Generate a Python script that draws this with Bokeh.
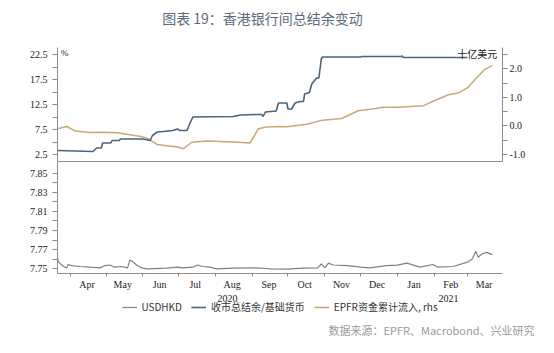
import pandas as pd
from bokeh.plotting import figure
from bokeh.models import (Range1d, LinearAxis, FixedTicker, Legend, LegendItem, Label, Title,
                          PrintfTickFormatter)
from bokeh.layouts import column
from bokeh.embed import file_html
from bokeh.resources import INLINE

# ---------------- data ----------------
balance_dates = ["2020-03-21", "2020-04-20", "2020-04-23", "2020-04-27", "2020-04-28", "2020-05-05",
                 "2020-05-06", "2020-05-12", "2020-05-13", "2020-06-01", "2020-06-07", "2020-06-09",
                 "2020-06-13", "2020-06-18", "2020-06-26", "2020-06-30", "2020-07-02", "2020-07-08",
                 "2020-07-11", "2020-07-13", "2020-08-16", "2020-08-22", "2020-09-05", "2020-09-09",
                 "2020-09-10", "2020-09-12", "2020-09-21", "2020-09-23", "2020-09-30", "2020-10-01",
                 "2020-10-04", "2020-10-07", "2020-10-11", "2020-10-14", "2020-10-15", "2020-10-19",
                 "2020-10-21", "2020-10-25", "2020-10-27", "2020-10-29", "2020-10-30", "2020-12-01",
                 "2020-12-02", "2021-01-04", "2021-01-05", "2021-01-06", "2021-03-01"]
balance_pct = [3.3, 3.1, 3.8, 3.8, 4.8, 4.8, 5.3, 5.3, 5.6, 5.6,
               5.3, 6.3, 7.0, 7.1, 7.3, 7.6, 7.3, 7.3, 9.0, 10.0,
               10.1, 10.4, 10.5, 10.5, 10.1, 11.0, 11.2, 12.8, 12.8, 11.6,
               11.6, 12.8, 13.1, 13.1, 14.6, 14.9, 16.6, 17.8, 17.8, 21.6,
               22.0, 22.0, 22.1, 22.1, 22.2, 21.9, 21.9]

epfr_dates = ["2020-03-21", "2020-03-29", "2020-04-05", "2020-04-17", "2020-04-26", "2020-05-10",
              "2020-05-21", "2020-05-29", "2020-06-04", "2020-06-13", "2020-06-21", "2020-06-30",
              "2020-07-05", "2020-07-12", "2020-07-25", "2020-08-16", "2020-08-30", "2020-09-06",
              "2020-09-13", "2020-09-24", "2020-09-30", "2020-10-17", "2020-10-25", "2020-10-30",
              "2020-11-15", "2020-11-22", "2020-11-29", "2020-12-11", "2020-12-20", "2021-01-01",
              "2021-01-23", "2021-02-01", "2021-02-13", "2021-02-21", "2021-03-01", "2021-03-08",
              "2021-03-15", "2021-03-22"]
epfr_flow = [-0.10, -0.02, -0.18, -0.23, -0.22, -0.24, -0.31, -0.36, -0.42, -0.65,
             -0.69, -0.74, -0.80, -0.57, -0.53, -0.56, -0.60, -0.10, -0.04, -0.02,
             -0.03, 0.06, 0.15, 0.20, 0.26, 0.39, 0.53, 0.59, 0.65, 0.65,
             0.71, 0.88, 1.09, 1.15, 1.33, 1.65, 1.96, 2.12]

hkd_dates = ["2020-03-21", "2020-03-22", "2020-03-26", "2020-03-29", "2020-03-30", "2020-04-02",
             "2020-04-09", "2020-04-17", "2020-04-26", "2020-04-30", "2020-05-04", "2020-05-08",
             "2020-05-14", "2020-05-19", "2020-05-21", "2020-05-24", "2020-05-27", "2020-05-31",
             "2020-06-04", "2020-06-21", "2020-06-30", "2020-07-04", "2020-07-13", "2020-07-17",
             "2020-07-21", "2020-07-27", "2020-08-02", "2020-08-16", "2020-09-02", "2020-09-13",
             "2020-09-16", "2020-09-30", "2020-10-14", "2020-10-26", "2020-10-29", "2020-11-01",
             "2020-11-04", "2020-11-08", "2020-11-20", "2020-12-01", "2020-12-09", "2020-12-23",
             "2021-01-01", "2021-01-09", "2021-01-20", "2021-01-31", "2021-02-04", "2021-02-17",
             "2021-03-01", "2021-03-05", "2021-03-08", "2021-03-10", "2021-03-13", "2021-03-17",
             "2021-03-22"]
usdhkd = [7.762, 7.757, 7.7524, 7.751, 7.7545, 7.7534, 7.7524, 7.7517, 7.751, 7.7534,
          7.754, 7.7517, 7.7524, 7.751, 7.7593, 7.7569, 7.7534, 7.751, 7.750, 7.7507,
          7.7517, 7.751, 7.7517, 7.754, 7.7524, 7.7517, 7.750, 7.7507, 7.751, 7.7503,
          7.750, 7.7497, 7.7507, 7.751, 7.7552, 7.751, 7.7559, 7.754, 7.7534, 7.7517,
          7.751, 7.7534, 7.7538, 7.7559, 7.7517, 7.7545, 7.7517, 7.7524, 7.7569, 7.7603,
          7.7683, 7.7621, 7.7655, 7.7672, 7.7648]

month_label_dates = ["2020-04-15", "2020-05-15", "2020-06-15", "2020-07-15", "2020-08-15", "2020-09-15",
                     "2020-10-15", "2020-11-15", "2020-12-15", "2021-01-15", "2021-02-15", "2021-03-15"]
month_labels = ["Apr", "May", "Jun", "Jul", "Aug", "Sep", "Oct", "Nov", "Dec", "Jan", "Feb", "Mar"]
month_start_dates = ["2020-04-01", "2020-05-01", "2020-06-01", "2020-07-01", "2020-08-01", "2020-09-01",
                     "2020-10-01", "2020-11-01", "2020-12-01", "2021-01-01", "2021-02-01", "2021-03-01"]
year_label_dates = ["2020-08-11", "2021-02-13"]
year_labels = ["2020", "2021"]

left_ticks = [2.5, 7.5, 12.5, 17.5, 22.5]
left_minor = [5.0, 10.0, 15.0, 20.0]
right_ticks = [-1.0, 0.0, 1.0, 2.0]
right_minor = [-0.5, 0.5, 1.5, 2.5]
hkd_ticks = [7.75, 7.77, 7.79, 7.81, 7.83, 7.85]
hkd_minor = [7.76, 7.78, 7.80, 7.82, 7.84]

TITLE = "图表 19：香港银行间总结余变动"
SOURCE = "数据来源：EPFR、Macrobond、兴业研究"
NAMES = ["USDHKD", "收市总结余/基础货币", "EPFR资金累计流入, rhs"]


def ms(s):
    return float(pd.Timestamp(s).value // 10**6)


BLUE = "#4b6479"
TAN = "#c9a978"
GRAY = "#808080"
AX = "#8c8c8c"
CJK = "Noto Sans CJK SC"
SERIF = "Liberation Serif"
W = 554
FRAME_W = 445
LEFT_B = 57
RIGHT_B = W - LEFT_B - FRAME_W

X0 = ms("2020-03-21 02:00")
X1 = ms("2021-03-30 11:00")


def style_axis(ax, standoff=5):
    ax.axis_line_color = AX
    ax.major_tick_line_color = AX
    ax.minor_tick_line_color = AX
    ax.major_tick_out = 5
    ax.major_tick_in = 0
    ax.minor_tick_out = 5
    ax.minor_tick_in = 0
    ax.major_label_text_font = SERIF
    ax.major_label_text_font_size = "10px"
    ax.major_label_text_color = "#222222"
    ax.major_label_standoff = standoff


def blank(height, x_range, y_range, bottom=0):
    f = figure(frame_width=FRAME_W, frame_height=height, x_range=x_range, y_range=y_range,
               output_backend="svg", toolbar_location=None, min_border_left=LEFT_B,
               min_border_right=RIGHT_B, min_border_top=0, min_border_bottom=bottom,
               outline_line_color=None, title=None,
               background_fill_color="white", border_fill_color="white")
    f.axis.visible = False
    f.grid.visible = False
    return f


# ---------------- header ----------------
head = blank(47, Range1d(0, FRAME_W), Range1d(47, 0))
head.add_layout(Label(x=262 - LEFT_B, y=17, text=TITLE, text_font=CJK, text_font_size="14px",
                      text_color="#5c6b7b", text_align="center", text_baseline="middle"))

# ---------------- top panel ----------------
top = figure(frame_width=FRAME_W, frame_height=114, x_axis_type="datetime", x_range=Range1d(X0, X1),
             y_range=Range1d(1.1, 23.9), output_backend="svg", toolbar_location=None,
             min_border_left=LEFT_B, min_border_right=RIGHT_B, min_border_top=0, min_border_bottom=1,
             outline_line_color=None, title=None, background_fill_color="white",
             border_fill_color="white")
top.grid.visible = False
top.extra_y_ranges = {"rhs": Range1d(-1.245, 2.745)}

la = top.yaxis[0]
la.ticker = FixedTicker(ticks=left_ticks, minor_ticks=left_minor)
la.formatter = PrintfTickFormatter(format="%.1f")
style_axis(la, 5)

ra = LinearAxis(y_range_name="rhs", ticker=FixedTicker(ticks=right_ticks, minor_ticks=right_minor),
                formatter=PrintfTickFormatter(format="%.1f"))
style_axis(ra, 2)
top.add_layout(ra, "right")

tx = top.xaxis[0]
tx.ticker = FixedTicker(ticks=[])
tx.axis_line_color = AX
tx.major_tick_out = 0
tx.minor_tick_out = 0
tx.major_label_standoff = 0

top.line(pd.to_datetime(epfr_dates), epfr_flow, y_range_name="rhs", line_color=TAN, line_width=1.5)
top.line(pd.to_datetime(balance_dates), balance_pct, line_color=BLUE, line_width=1.6)

top.add_layout(Label(x=ms("2020-03-24"), y=22.75, text="%", text_font=SERIF, text_font_size="9px",
                     text_color="#222222", text_baseline="middle", text_align="left"))
top.add_layout(Label(x=ms("2021-03-26"), y=22.75, text="十亿美元", text_font=CJK, text_font_size="10px",
                     text_color="#222222", text_baseline="middle", text_align="right"))

# ---------------- bottom panel ----------------
bot = figure(frame_width=FRAME_W, frame_height=111, x_axis_type="datetime", x_range=top.x_range,
             y_range=Range1d(7.7451, 7.861), output_backend="svg", toolbar_location=None,
             min_border_left=LEFT_B, min_border_right=RIGHT_B, min_border_top=0, min_border_bottom=20,
             outline_line_color=None, title=None, background_fill_color="white",
             border_fill_color="white")
bot.grid.visible = False

ba = bot.yaxis[0]
ba.ticker = FixedTicker(ticks=hkd_ticks, minor_ticks=hkd_minor)
ba.formatter = PrintfTickFormatter(format="%.2f")
style_axis(ba, 5)

bx = bot.xaxis[0]
bx.ticker = FixedTicker(ticks=[ms(d) for d in month_label_dates],
                        minor_ticks=[ms(d) for d in month_start_dates])
bx.major_label_overrides = {ms(d): lab for d, lab in zip(month_label_dates, month_labels)}
style_axis(bx, 2)
bx.major_tick_out = 0
bx.minor_tick_out = 3

bot.line(pd.to_datetime(hkd_dates), usdhkd, line_color=GRAY, line_width=1.2)

# ---------------- footer: years, legend, source ----------------
FOOT_H = 26
foot = blank(FOOT_H, Range1d(X0, X1), Range1d(FOOT_H, 0), bottom=34)
for d, lab in zip(year_label_dates, year_labels):
    foot.add_layout(Label(x=ms(d), y=5, text=lab, text_font=SERIF, text_font_size="10px",
                          text_color="#222222", text_align="center", text_baseline="middle"))

# legend-only renderers (their points lie outside the visible range)
off_x = [X0 - 2e9, X0 - 1e9]
off_y = [1, 1]
g = foot.line(x=off_x, y=off_y, line_color=GRAY, line_width=1.2)
b_dummy = foot.line(x=off_x, y=off_y, line_color=BLUE, line_width=1.6)
t_dummy = foot.line(x=off_x, y=off_y, line_color=TAN, line_width=1.6)
legend = Legend(items=[LegendItem(label=NAMES[0], renderers=[g]),
                       LegendItem(label=NAMES[1], renderers=[b_dummy]),
                       LegendItem(label=NAMES[2], renderers=[t_dummy])],
                orientation="horizontal", location="top_center", border_line_color=None,
                background_fill_alpha=0, label_text_font=CJK, label_text_font_size="10px",
                label_text_color="#333333", glyph_width=15, glyph_height=10, label_standoff=5,
                spacing=9, padding=0, margin=6, label_height=12)
foot.add_layout(legend)

src = Title(text=SOURCE, align="left", offset=271, standoff=0, text_font=CJK,
            text_font_size="11px", text_font_style="normal", text_color="#9a9a9a")
foot.add_layout(src, "below")

layout = column(head, top, bot, foot, spacing=0)
open("out.html", "w").write(file_html(layout, INLINE))
